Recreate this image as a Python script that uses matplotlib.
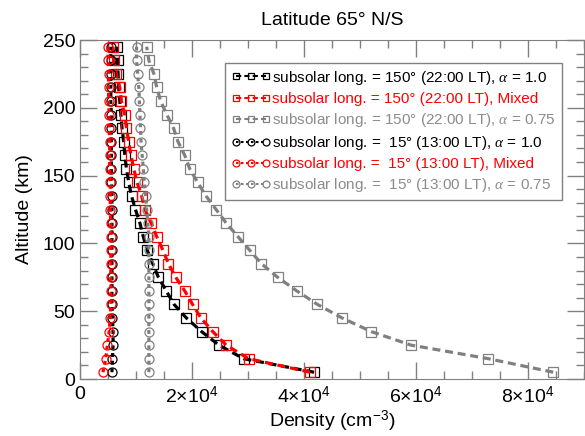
import numpy as np
import matplotlib
matplotlib.use("Agg")
import matplotlib.pyplot as plt
from matplotlib.ticker import MultipleLocator, FuncFormatter

plt.rcParams["font.family"] = ["Liberation Sans", "DejaVu Sans"]
plt.rcParams["mathtext.fontset"] = "custom"
plt.rcParams["mathtext.rm"] = "Liberation Sans"
plt.rcParams["mathtext.it"] = "Liberation Serif:italic"
plt.rcParams["mathtext.sf"] = "Liberation Sans"

# altitude grid (km)
altitude = [5, 15, 25, 35, 45, 55, 65, 75, 85, 95, 105, 115, 125,
            135, 145, 155, 165, 175, 185, 195, 205, 215, 225, 235, 245]

# densities (cm^-3)
lon150_a10 = [41800, 29200, 24800, 21700, 19000, 16800, 15400, 14000, 13000, 12000,
              11300, 10700, 9900, 9200, 8700, 8300, 8000, 7800, 7500, 7300,
              7100, 6900, 6800, 6700, 6600]
lon150_mix = [41100, 30100, 26100, 23700, 21600, 20100, 18700, 17100, 15800, 14800,
              13700, 12700, 11600, 11000, 10200, 9600, 9100, 8700, 8300, 8000,
              7400, 7100, 6500, 6000, 5900]
lon150_a075 = [84500, 72900, 59100, 52000, 46800, 42400, 38700, 35300, 32400, 30300,
               28200, 26100, 24300, 22500, 21000, 19600, 18700, 17500, 16700, 15500,
               14400, 13700, 13200, 12300, 11900]
lon15_a10 = [5700, 5800, 5900, 5900, 5800, 5700, 5700, 5700, 5700, 5700,
             5700, 5700, 5700, 5700, 5600, 5600, 5600, 5600, 5600, 5600,
             5500, 5500, 5500, 5500, 5500]
lon15_mix = [4100, 4600, 4900, 5200, 5400, 5500, 5500, 5500, 5500, 5500,
             5500, 5500, 5400, 5400, 5400, 5300, 5300, 5300, 5200, 5200,
             5100, 5100, 5100, 5000, 5000]
lon15_a075 = [12300, 12300, 12300, 12300, 12300, 12300, 12300, 12300, 12300, 12300,
              12300, 12100, 11900, 11700, 11500, 11300, 11100, 10900, 10800, 10700,
              10600, 10500, 10300, 10100, 10100]

labels = [
    r"subsolar long. = 150° (22:00 LT), $\alpha$ = 1.0",
    r"subsolar long. = 150° (22:00 LT), Mixed",
    r"subsolar long. = 150° (22:00 LT), $\alpha$ = 0.75",
    r"subsolar long. =  15° (13:00 LT), $\alpha$ = 1.0",
    r"subsolar long. =  15° (13:00 LT), Mixed",
    r"subsolar long. =  15° (13:00 LT), $\alpha$ = 0.75",
]
series = [lon150_a10, lon150_mix, lon150_a075, lon15_a10, lon15_mix, lon15_a075]
colors = ["black", "red", "gray", "black", "red", "gray"]
markers = ["s", "s", "s", "o", "o", "o"]

fig = plt.figure(figsize=(5.85, 4.36), dpi=100)
ax = fig.add_axes([80 / 585, 57 / 436, 504 / 585, 339 / 436])

for vals, c, m, lab in zip(series, colors, markers, labels):
    dash = (2.5, 1.5) if m == "s" else (1.2, 1.2)
    ax.plot(vals, altitude, color=c, lw=2.3, dashes=dash, marker=m, ms=6.5,
            mfc="none", mec=c, mew=0.9, label=lab)

ax.set_xlim(0, 90000)
ax.set_ylim(0, 250)
ax.xaxis.set_major_locator(MultipleLocator(20000))
ax.xaxis.set_minor_locator(MultipleLocator(5000))
ax.yaxis.set_major_locator(MultipleLocator(50))
ax.yaxis.set_minor_locator(MultipleLocator(10))


def sci(x, pos):
    if x == 0:
        return "0"
    return r"$%d{\times}10^{4}$" % round(x / 1e4)


ax.xaxis.set_major_formatter(FuncFormatter(sci))
ax.tick_params(which="both", direction="in", top=True, right=True,
               color="#808080", labelsize=14)
ax.tick_params(which="major", length=12, width=1)
ax.tick_params(which="minor", length=6, width=1)
ax.tick_params(axis="x", pad=5)
for s in ax.spines.values():
    s.set_color("#808080")

ax.set_xlabel(r"Density (cm$^{-3}$)", fontsize=14, labelpad=1)
ax.set_ylabel("Altitude (km)", fontsize=14, labelpad=7)
ax.set_title("Latitude 65° N/S", fontsize=14, pad=11)

leg = ax.legend(loc="upper right", bbox_to_anchor=(0.956, 0.933), borderaxespad=0,
                fontsize=11, numpoints=3, handlelength=2.6, handletextpad=0.1,
                labelspacing=0.33, borderpad=0.4, fancybox=False, framealpha=1,
                edgecolor="#808080")
leg.get_frame().set_linewidth(1)
for t, c in zip(leg.get_texts(), colors):
    t.set_color("#8c8c8c" if c == "gray" else c)
for h in leg.get_lines():
    h.set_markersize(5)
    h.set_linewidth(1.5)

fig.savefig("out.png", dpi=100)
